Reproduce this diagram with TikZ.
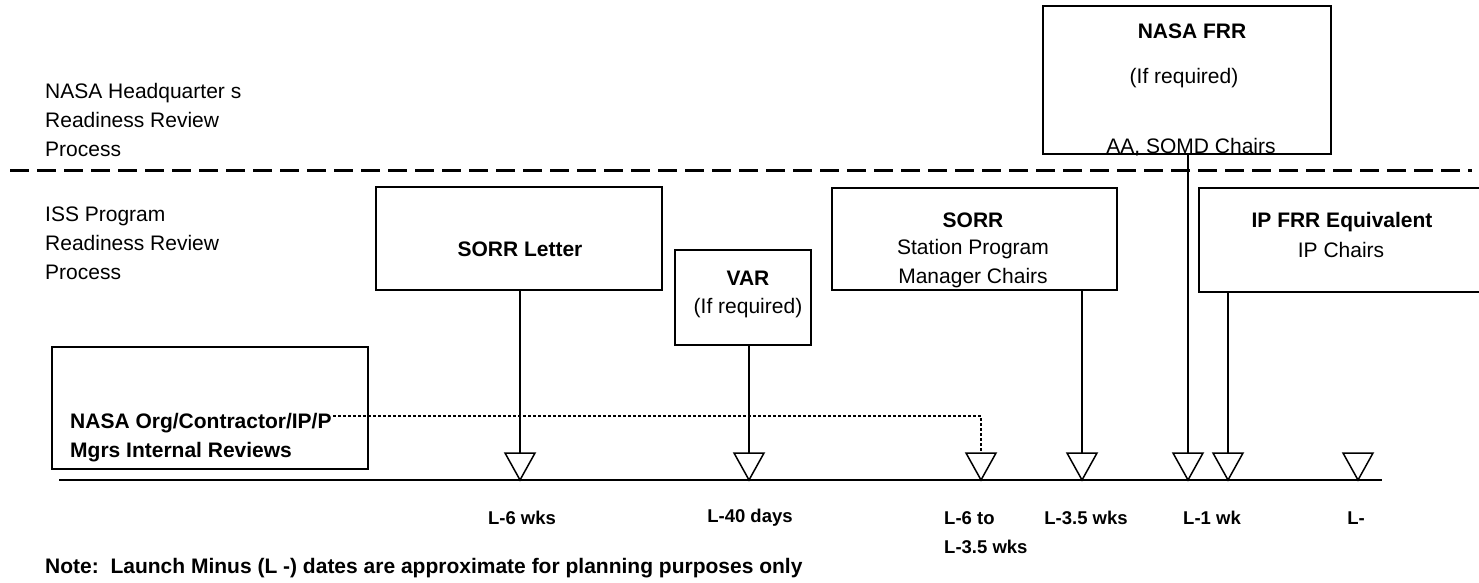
\documentclass[tikz,border=0pt]{standalone}
\usepackage{fontspec}
\setmainfont{Liberation Sans}
\usetikzlibrary{calc}
\tikzset{
  box/.style={draw, line width=1.8pt, inner sep=0pt, rectangle},
  lbl/.style={inner sep=0pt, align=left, font=\fontsize{21}{29}\selectfont},
  btxt/.style={inner sep=0pt, align=center, font=\fontsize{21}{29}\selectfont},
  btxtb/.style={inner sep=0pt, align=center, font=\fontsize{21}{29}\selectfont\bfseries},
  date/.style={inner sep=0pt, align=left, font=\fontsize{18.5}{29}\selectfont\bfseries},
  conn/.style={line width=1.5pt},
  tri/.pic={\draw[line width=1.5pt, fill=white, line join=miter] (-15,-27) -- (15,-27) -- (0,0) -- cycle;}
}
\begin{document}
\begin{tikzpicture}[x=1pt, y=-1pt]
\clip (0,0) rectangle (1479,583);
\fill[white] (0,0) rectangle (1479,583);

% section labels
\node[lbl, anchor=west] (hq) at (45,119.5) {NASA Headquarter s\\Readiness Review\\Process};
\node[lbl, anchor=west] (iss) at (45,243.5) {ISS Program\\Readiness Review\\Process};

% divider
\coordinate (dl) at (10,170);
\coordinate (dr) at (1472,170);
\draw[line width=3pt, dash pattern=on 19pt off 8pt] (dl) -- (dr);

% boxes
\node[box, minimum width=288pt, minimum height=148pt] (frr) at (1187,80) {};
\node[box, minimum width=286pt, minimum height=103pt] (sorrl) at (519,238.5) {};
\node[box, minimum width=136pt, minimum height=95pt] (var) at (743,297.5) {};
\node[box, minimum width=285pt, minimum height=102pt] (sorr) at (974.5,239) {};
\node[box, minimum width=291pt, minimum height=104pt] (ipfrr) at (1344.5,240) {};
\node[box, minimum width=316pt, minimum height=122pt] (org) at (210,408) {};

% box texts
\node[btxtb] (frrA) at (1192,31) {NASA FRR};
\node[btxt] (frrB) at (1184,78) {(If required)};
\node[btxt] (frrC) at (1191,147) {AA, SOMD Chairs};
\node[btxtb] (sorrlA) at (520,249) {SORR Letter};
\node[btxtb] (varA) at (748,278) {VAR};
\node[btxt] (varB) at (748,308) {(If required)};
\node[btxtb] (sorrA) at (973,220) {SORR};
\node[btxt] (sorrB) at (973,263.5) {Station Program\\Manager Chairs};
\node[btxtb] (ipA) at (1342,222) {IP FRR Equivalent};
\node[btxt] (ipB) at (1341,250) {IP Chairs};
\node[btxtb, align=left, anchor=west] (orgA) at (70,437.5) {NASA Org/Contractor/IP/P\\Mgrs Internal Reviews};

% timeline
\coordinate (tl) at (59,480);
\coordinate (tr) at (1382,480);
\draw[line width=2.8pt] (tl) -- (tr);

% milestone tips and tops
\foreach \n/\x in {1/520, 2/749, 3/981, 4/1082, 5/1188, 6/1228, 7/1358}{
  \coordinate (m\n) at (\x,480);
  \coordinate (k\n) at (\x,453);
}

% connectors
\draw[conn] (sorrl.south -| k1) -- (k1);
\draw[conn] (var.south -| k2) -- (k2);
\draw[conn] (sorr.south -| k4) -- (k4);
\draw[conn] (frr.south -| k5) -- (k5);
\draw[conn] (ipfrr.south -| k6) -- (k6);
\coordinate (d0) at (333,416);
\draw[line width=1.1pt, dash pattern=on 3pt off 2pt] (d0) -| (k3);

% triangles
\foreach \n in {1,...,7}{ \pic at (m\n) {tri}; }

% dates
\node[date, anchor=center] (L1) at (522,518) {L-6 wks};
\node[date, anchor=center] (L2) at (750,518) {L-40 days};
\node[date, anchor=west] (L3) at (944,532.5) {L-6 to\\L-3.5 wks};
\node[date, anchor=center] (L4) at (1086,518) {L-3.5 wks};
\node[date, anchor=center] (L5) at (1212,518) {L-1 wk};
\node[date, anchor=center] (L6) at (1356,518) {L-};

% note
\node[inner sep=0pt, anchor=west, font=\fontsize{21}{24}\selectfont\bfseries] (note) at (45,568) {Note:\ \ Launch Minus (L -) dates are approximate for planning purposes only};
\end{tikzpicture}
\end{document}
